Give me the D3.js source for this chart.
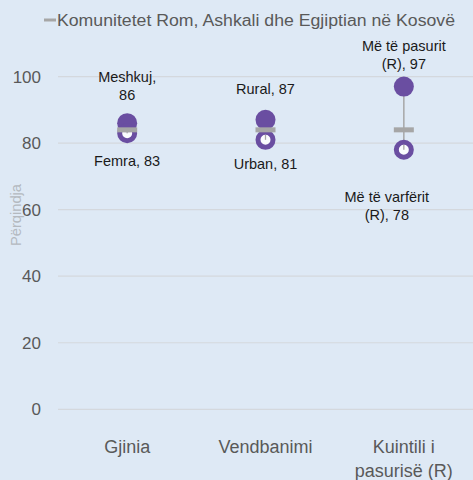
<!DOCTYPE html>
<html>
<head>
<meta charset="utf-8">
<script src="https://cdn.jsdelivr.net/npm/d3@7"></script>
<style>
  html, body { margin: 0; padding: 0; background: #dee9f5; }
  svg { display: block; }
  text { font-family: "Liberation Sans", Arial, sans-serif; }
</style>
</head>
<body>
<svg id="chart" width="473" height="480"></svg>
<script>
// ---- data ----
const categories = ["Gjinia", "Vendbanimi", "Kuintili i pasurisë (R)"];
const categoryLines = [["Gjinia"], ["Vendbanimi"], ["Kuintili i", "pasurisë (R)"]];
const highNames = ["Meshkuj", "Rural", "Më të pasurit (R)"];
const highValues = [86, 87, 97];
const lowNames = ["Femra", "Urban", "Më të varfërit (R)"];
const lowValues = [83, 81, 78];
const averageValues = [84, 84, 84];
const legendLabel = "Komunitetet Rom, Ashkali dhe Egjiptian në Kosovë";
const yTicks = [0, 20, 40, 60, 80, 100];
const yTitle = "Përqindja";

// label layout (lines + offsets), kept apart from the data
const highLabelLines = [["Meshkuj,", "86"], ["Rural, 87"], ["Më të pasurit", "(R), 97"]];
const highLabelDy = [-28, -31, -23];
const lowLabelLines = [["Femra, 83"], ["Urban, 81"], ["Më të varfërit", "(R), 78"]];
const lowLabelDy = [28, 24, 47];
const lowLabelDx = [0, 0, -17];

// ---- style ----
const purple = "#6a4ea1";
const grey = "#a6a6a6";
const gridColor = "#d4d8dd";
const axisText = "#595959";

const svg = d3.select("#chart");
const W = 473, H = 480;
svg.append("rect").attr("width", W).attr("height", H).attr("fill", "#dee9f5");

const x = d3.scaleBand().domain(categories).range([58, 473]).padding(0);
const y = d3.scaleLinear().domain([0, 100]).range([409.3, 76.6]);

// gridlines
svg.append("g").selectAll("line").data(yTicks).join("line")
  .attr("x1", 58).attr("x2", W)
  .attr("y1", d => y(d)).attr("y2", d => y(d))
  .attr("stroke", gridColor).attr("stroke-width", 1.2);

// y tick labels
svg.append("g").selectAll("text").data(yTicks).join("text")
  .attr("x", 41).attr("y", d => y(d)).attr("dy", "0.35em")
  .attr("text-anchor", "end").attr("font-size", 17).attr("fill", axisText)
  .text(d => d);

// y title
svg.append("text")
  .attr("transform", `translate(21,215) rotate(-90)`)
  .attr("text-anchor", "middle").attr("font-size", 14).attr("fill", "#b4b9bf")
  .attr("textLength", 62).attr("lengthAdjust", "spacingAndGlyphs")
  .text(yTitle);

// category labels
categories.forEach((c, i) => {
  const t = svg.append("text")
    .attr("x", x(c) + x.bandwidth() / 2)
    .attr("y", 453)
    .attr("text-anchor", "middle").attr("font-size", 18).attr("fill", axisText);
  categoryLines[i].forEach((ln, j) => {
    t.append("tspan").attr("x", x(c) + x.bandwidth() / 2).attr("dy", j === 0 ? 0 : 24).text(ln);
  });
});

const cx = i => x(categories[i]) + x.bandwidth() / 2;

// high-low lines
svg.append("g").selectAll("line").data(categories).join("line")
  .attr("x1", (d, i) => cx(i)).attr("x2", (d, i) => cx(i))
  .attr("y1", (d, i) => y(highValues[i])).attr("y2", (d, i) => y(lowValues[i]))
  .attr("stroke", grey).attr("stroke-width", 1.5);

// high points (filled)
svg.append("g").selectAll("circle").data(highValues).join("circle")
  .attr("cx", (d, i) => cx(i)).attr("cy", d => y(d)).attr("r", 10)
  .attr("fill", purple);

// low points (ring)
svg.append("g").selectAll("circle").data(lowValues).join("circle")
  .attr("cx", (d, i) => cx(i)).attr("cy", d => y(d)).attr("r", 7.5)
  .attr("fill", "rgba(255,255,255,0.85)").attr("stroke", purple).attr("stroke-width", 5);

// thin line through ring centre (as in reference)
svg.append("g").selectAll("line").data(lowValues).join("line")
  .attr("x1", (d, i) => cx(i)).attr("x2", (d, i) => cx(i))
  .attr("y1", d => y(d) - 5).attr("y2", d => y(d))
  .attr("stroke", grey).attr("stroke-width", 1.2);

// average markers
svg.append("g").selectAll("rect").data(averageValues).join("rect")
  .attr("x", (d, i) => cx(i) - 10).attr("y", d => y(d) - 2.5)
  .attr("width", 20).attr("height", 5).attr("fill", grey);

// data labels
function addLabel(lines, xc, yLast, anchorFirst) {
  const lh = 18;
  const t = svg.append("text").attr("text-anchor", "middle").attr("font-size", 14.5).attr("fill", "#1a1a1a");
  const n = lines.length;
  lines.forEach((ln, j) => {
    t.append("tspan").attr("x", xc)
      .attr("y", anchorFirst ? yLast + j * lh : yLast - (n - 1 - j) * lh)
      .attr("dy", "0.35em").text(ln);
  });
}
highValues.forEach((v, i) => addLabel(highLabelLines[i], cx(i), y(v) + highLabelDy[i], false));
lowValues.forEach((v, i) => addLabel(lowLabelLines[i], cx(i) + lowLabelDx[i], y(v) + lowLabelDy[i], true));

// legend
svg.append("line").attr("x1", 44).attr("x2", 56).attr("y1", 20).attr("y2", 20)
  .attr("stroke", grey).attr("stroke-width", 3);
svg.append("text").attr("x", 57).attr("y", 20).attr("dy", "0.35em")
  .attr("font-size", 16).attr("fill", axisText)
  .attr("textLength", 398).attr("lengthAdjust", "spacingAndGlyphs")
  .text(legendLabel);
</script>
</body>
</html>
